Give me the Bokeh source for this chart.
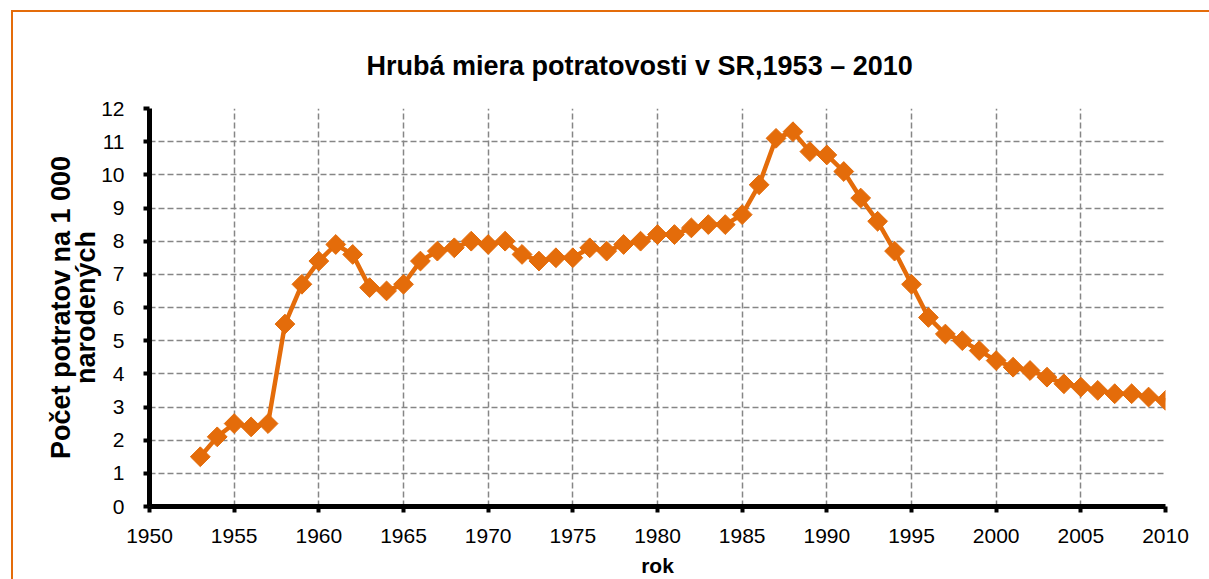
import numpy as np
from bokeh.plotting import figure
from bokeh.models import Range1d, FixedTicker, Title, LinearAxis
from bokeh.embed import file_html
from bokeh.resources import INLINE

years = list(range(1953, 2011))
rates = [1.5, 2.1, 2.5, 2.4, 2.5,
         5.5, 6.7, 7.4, 7.9, 7.6, 6.6, 6.5, 6.7, 7.4, 7.7, 7.8, 8.0, 7.9,
         8.0, 7.6, 7.4, 7.5, 7.5, 7.8, 7.7, 7.9, 8.0, 8.2,
         8.2, 8.4, 8.5, 8.5, 8.8, 9.7, 11.1, 11.3, 10.7, 10.6,
         10.1, 9.3, 8.6, 7.7, 6.7, 5.7, 5.2, 5.0, 4.7, 4.4,
         4.2, 4.1, 3.9, 3.7, 3.6, 3.5, 3.4, 3.4, 3.3, 3.2]
x_ticks = [1950, 1955, 1960, 1965, 1970, 1975, 1980, 1985, 1990, 1995, 2000, 2005, 2010]
y_ticks = [0, 1, 2, 3, 4, 5, 6, 7, 8, 9, 10, 11, 12]

title_text = "Hrubá miera potratovosti v SR,1953 – 2010"
x_label = "rok"
y_label_lines = ["Počet potratov na 1 000", "narodených"]

ORANGE = "#E46C0A"
FONT = "Liberation Sans"

p = figure(width=1209, height=579,
           x_range=Range1d(1950, 2010), y_range=Range1d(0, 12),
           output_backend="svg", toolbar_location=None,
           min_border_left=149, min_border_right=44,
           min_border_top=108, min_border_bottom=70)
p.outline_line_color = None
p.background_fill_color = "white"
p.border_fill_alpha = 0
p.styles = {
    "background": ("linear-gradient(#E46C0A, #E46C0A) 11px 10px / 2px 700px no-repeat, "
                   "linear-gradient(#E46C0A, #E46C0A) 11px 10px / 1400px 2px no-repeat, "
                   "#ffffff"),
}

t = Title(text=title_text, align="left", offset=217, standoff=55,
          text_font=FONT, text_font_size="27px", text_font_style="bold",
          text_color="black")
p.add_layout(t, "above")

for ax in (p.xaxis[0], p.yaxis[0]):
    ax.axis_line_color = "black"
    ax.axis_line_width = 5
    ax.major_tick_line_color = "black"
    ax.major_tick_line_width = 4
    ax.major_tick_out = 6
    ax.major_tick_in = 0
    ax.minor_tick_out = 0
    ax.minor_tick_in = 0
    ax.major_label_text_font = FONT
    ax.major_label_text_font_size = "21px"
    ax.major_label_text_color = "black"
    ax.axis_label_text_font = FONT
    ax.axis_label_text_font_style = "bold"
    ax.axis_label_text_color = "black"

p.xaxis.ticker = FixedTicker(ticks=x_ticks)
p.yaxis.ticker = FixedTicker(ticks=y_ticks)
p.xaxis.major_label_standoff = 16
p.yaxis.major_label_standoff = 19
p.xaxis.axis_label = x_label
p.xaxis.axis_label_text_font_size = "21px"
p.xaxis.axis_label_standoff = 8

# second line of the y title sits on the main y axis
p.yaxis.axis_label = y_label_lines[1]
p.yaxis.axis_label_text_font_size = "27px"
p.yaxis.axis_label_standoff = -3

# first line of the y title on an extra, otherwise invisible left axis
ax2 = LinearAxis(axis_label=y_label_lines[0], ticker=FixedTicker(ticks=[]),
                 axis_line_alpha=0, major_tick_out=0, major_tick_in=0,
                 minor_tick_out=0, minor_tick_in=0,
                 major_label_text_font_size="0px", major_label_standoff=0,
                 axis_label_standoff=-7,
                 axis_label_text_font=FONT, axis_label_text_font_style="bold",
                 axis_label_text_font_size="27px", axis_label_text_color="black")
p.add_layout(ax2, "left")

for g in (p.xgrid[0], p.ygrid[0]):
    g.grid_line_color = "#868686"
    g.grid_line_dash = "6 3"
    g.grid_line_width = 1.5
p.xgrid.ticker = FixedTicker(ticks=x_ticks)
p.ygrid.ticker = FixedTicker(ticks=y_ticks)

p.line(years, rates, line_color=ORANGE, line_width=4.5)
p.scatter(years, rates, marker="square", size=14, angle=np.pi / 4,
          fill_color=ORANGE, line_color=ORANGE)

open("out.html", "w").write(file_html(p, INLINE))
